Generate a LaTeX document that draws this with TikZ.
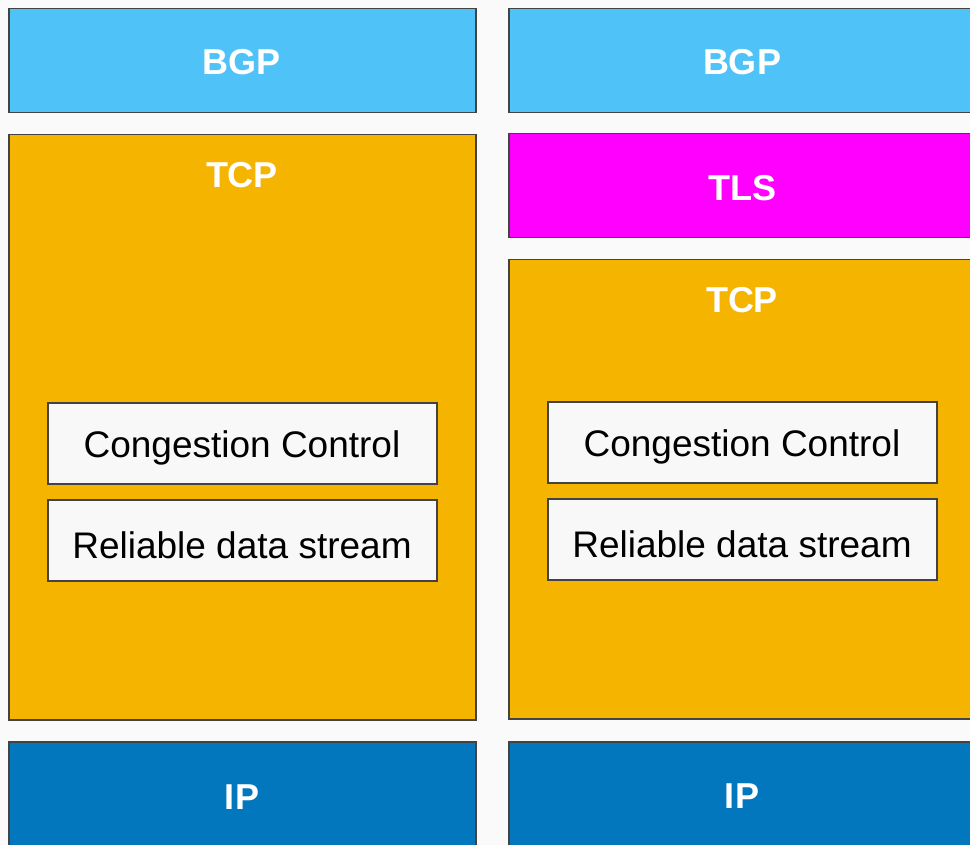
\documentclass[tikz,border=0pt]{standalone}
\usepackage{fontspec}
\setmainfont{Liberation Sans}
\definecolor{bgc}{HTML}{FAFAFA}
\definecolor{bgpc}{HTML}{4FC3F7}
\definecolor{tcpc}{HTML}{F4B400}
\definecolor{tlsc}{HTML}{FF00FF}
\definecolor{ipc}{HTML}{0277BD}
\definecolor{innerc}{HTML}{F8F8F8}
\definecolor{edgec}{HTML}{434343}
\tikzset{
  layer/.style={draw=edgec, line width=1.5pt, rectangle, inner sep=0pt, minimum width=467pt, anchor=north west},
  inner/.style={draw=edgec, line width=1.5pt, fill=innerc, rectangle, inner sep=0pt, minimum width=389pt, minimum height=81pt, anchor=north west},
  innertext/.style={font=\fontsize{37}{42}\selectfont, inner sep=0pt},
  title/.style={text=white, font=\fontsize{36}{42}\selectfont\bfseries, inner sep=0pt}
}
\begin{document}
\begin{tikzpicture}[x=1pt,y=-1pt]
\useasboundingbox (0,0) rectangle (970,845);
\clip (0,0) rectangle (970,845);
\fill[bgc] (0,0) rectangle (970,845);
% left column
\node[layer, fill=bgpc, minimum height=104pt] (bgpL) at (8,8) {};
\node[title] (bgpLt) at (242,62) {BGP};
\node[layer, fill=tcpc, minimum height=585pt] (tcpL) at (8,134) {};
\node[title] (tcpLt) at (242,175) {TCP};
\node[inner] (ccL) at (47,402) {};
\node[innertext] (ccLt) at (242,448) {Congestion Control};
\node[inner] (rdL) at (47,499) {};
\node[innertext] (rdLt) at (242,545) {Reliable data stream};
\node[layer, fill=ipc, minimum height=140pt] (ipL) at (8,741) {};
\node[title] (ipLt) at (242,797) {IP};
% right column
\node[layer, fill=bgpc, minimum height=104pt] (bgpR) at (508,8) {};
\node[title] (bgpRt) at (742,62) {BGP};
\node[layer, fill=tlsc, minimum height=104pt] (tls) at (508,133) {};
\node[title] (tlst) at (742,188) {TLS};
\node[layer, fill=tcpc, minimum height=459pt] (tcpR) at (508,259) {};
\node[title] (tcpRt) at (742,300) {TCP};
\node[inner] (ccR) at (547,401) {};
\node[innertext] (ccRt) at (742,447) {Congestion Control};
\node[inner] (rdR) at (547,498) {};
\node[innertext] (rdRt) at (742,544) {Reliable data stream};
\node[layer, fill=ipc, minimum height=140pt] (ipR) at (508,741) {};
\node[title] (ipRt) at (742,796) {IP};
\end{tikzpicture}
\end{document}
